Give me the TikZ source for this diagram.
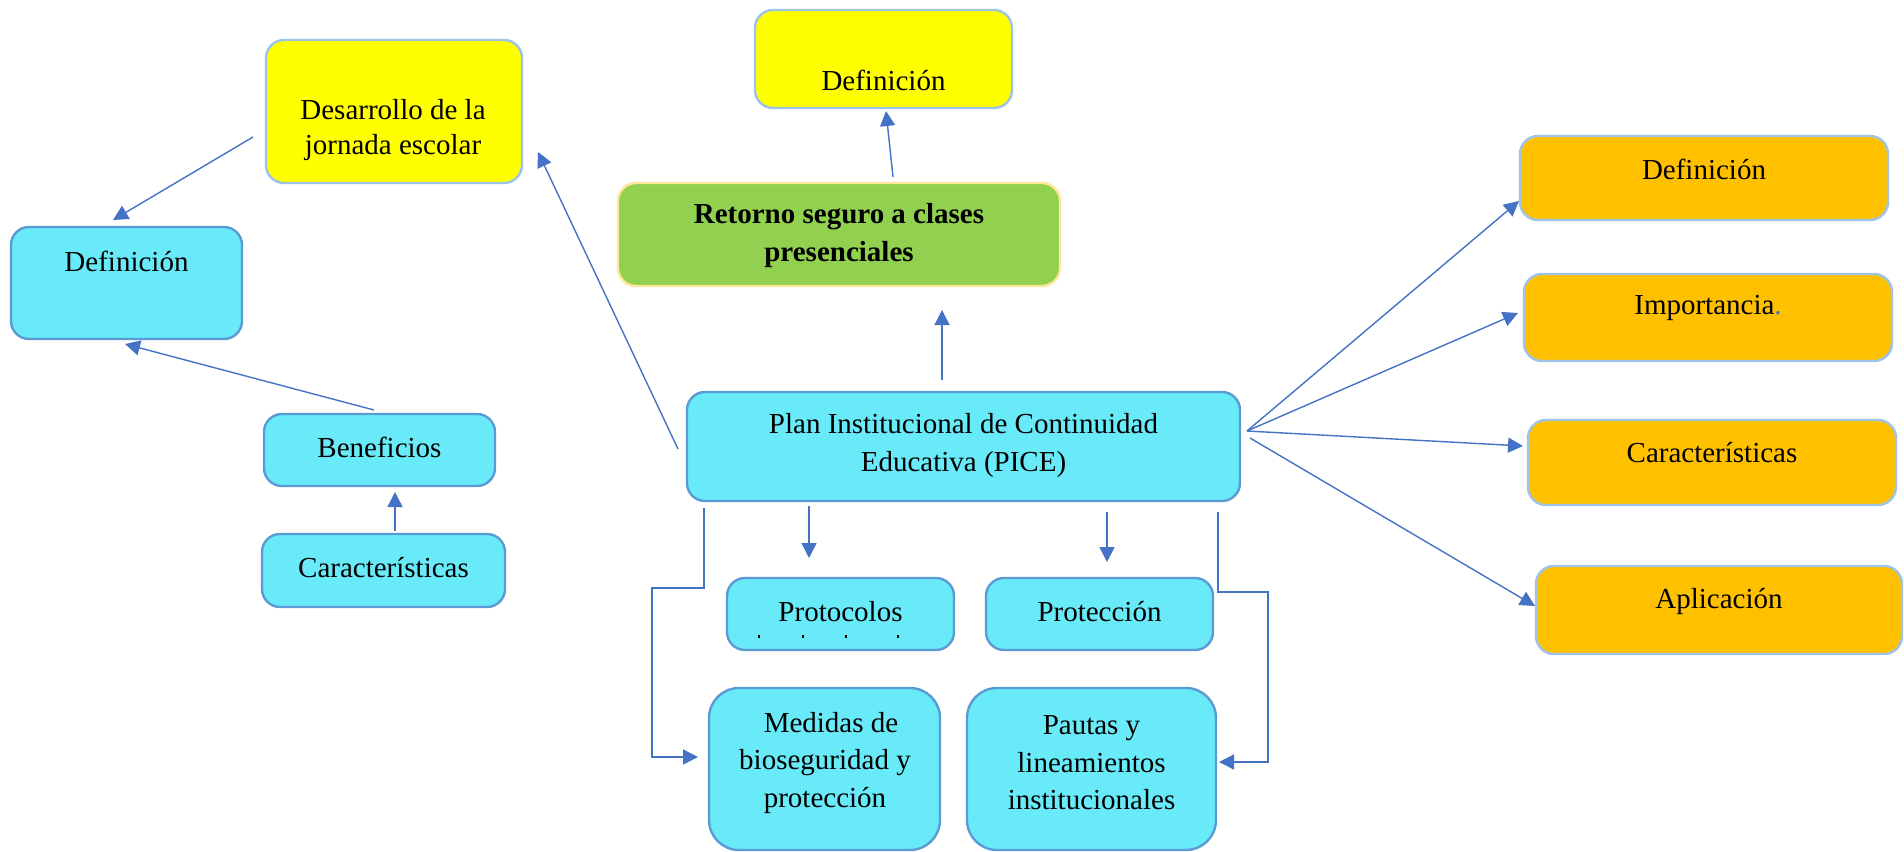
\documentclass[tikz,border=0pt]{standalone}
\usepackage{fontspec}
\setmainfont{Liberation Serif}
\usetikzlibrary{arrows.meta}
\definecolor{cyanf}{HTML}{69EAF8}
\definecolor{cyanb}{HTML}{5B9BD5}
\definecolor{lblue}{HTML}{9DC3E6}
\definecolor{yel}{HTML}{FFFF00}
\definecolor{grn}{HTML}{92D050}
\definecolor{grnb}{HTML}{FFE699}
\definecolor{org}{HTML}{FFC000}
\definecolor{arr}{HTML}{4472C4}
\begin{document}
\begin{tikzpicture}[x=0.5pt,y=-0.5pt,
 box/.style={rectangle, rounded corners=9pt, line width=1.2pt, inner sep=0pt},
 wh/.style 2 args={minimum width=#1*0.5pt, minimum height=#2*0.5pt},
 cbox/.style={box, fill=cyanf, draw=cyanb},
 ybox/.style={box, fill=yel, draw=lblue},
 obox/.style={box, fill=org, draw=lblue},
 gbox/.style={box, fill=grn, draw=grnb},
 txt/.style={font=\fontsize{14.5}{18.7}\selectfont, align=center, inner sep=0pt},
 conn/.style={draw=arr, line width=0.7pt, -{Triangle[length=7.5pt,width=7.5pt]}},
]
\useasboundingbox (0,0) rectangle (1904,851);

% boxes
\node[ybox, wh={257}{98}] (defTop) at (883.5,59) {};
\node[txt] (defTopT) at (883.5,80) {Definición};
\node[gbox, wh={442}{103}] (retorno) at (839,234.5) {};
\node[txt, font=\fontsize{14.5}{19}\selectfont\bfseries] (retornoT) at (839,236) {Retorno seguro a clases\\presenciales};
\node[ybox, wh={256}{143}] (desarrollo) at (394,111.5) {};
\node[txt, font=\fontsize{14.5}{17.5}\selectfont] (desarrolloT) at (393,130.5) {Desarrollo de la\\jornada escolar};
\node[cbox, wh={231}{112}] (defLeft) at (126.5,283) {};
\node[txt] (defLeftT) at (126.5,261) {Definición};
\node[cbox, wh={231}{72}] (benef) at (379.5,450) {};
\node[txt] (benefT) at (379.5,447) {Beneficios};
\node[cbox, wh={243}{73}] (caractL) at (383.5,570.5) {};
\node[txt] (caractLT) at (383.5,568) {Características};
\node[cbox, wh={553}{109}] (pice) at (963.5,446.5) {};
\node[txt, font=\fontsize{14.5}{19}\selectfont] (piceT) at (963.5,446) {Plan Institucional de Continuidad\\Educativa (PICE)};
\node[cbox, wh={227}{72}] (protocolos) at (840.5,614) {};
\node[txt] (protocolosT) at (840.5,612) {Protocolos};
\foreach \px in {758,802,845,897}{\fill (\px,635) rectangle ++(1.6,3);}
\node[cbox, wh={227}{72}] (proteccion) at (1099.5,614) {};
\node[txt] (proteccionT) at (1099.5,612) {Protección};
\node[cbox, rounded corners=15pt, wh={231}{162}] (medidas) at (824.5,769) {};
\node[txt] (medidasT) at (825,763) {\hspace*{6pt}Medidas de\\bioseguridad y\\protección};
\node[cbox, rounded corners=15pt, wh={249}{162}] (pautas) at (1091.5,769) {};
\node[txt] (pautasT) at (1091.5,763) {Pautas y\\lineamientos\\institucionales};
\node[obox, wh={368}{84}] (oDef) at (1704,178) {};
\node[txt] (oDefT) at (1704,169) {Definición};
\node[obox, wh={368}{87}] (oImp) at (1708,317.5) {};
\node[txt] (oImpT) at (1708,308) {Importancia\textcolor{arr}{.}};
\node[obox, wh={368}{85}] (oCar) at (1712,462.5) {};
\node[txt] (oCarT) at (1712,453) {Características};
\node[obox, wh={366}{88}] (oApl) at (1719,610) {};
\node[txt] (oAplT) at (1719,601) {Aplicación};

% connector end points
\coordinate (a1s) at (893,177); \coordinate (a1e) at (886,111);
\coordinate (a2s) at (942,380); \coordinate (a2e) at (942,310);
\coordinate (a3s) at (678,449); \coordinate (a3e) at (538,152);
\coordinate (a4s) at (253,137); \coordinate (a4e) at (113,220);
\coordinate (a5s) at (374,410); \coordinate (a5e) at (125,344);
\coordinate (a6s) at (395,531); \coordinate (a6e) at (395,492);
\coordinate (a7s) at (809,506); \coordinate (a7e) at (809,558);
\coordinate (a8s) at (1107,512); \coordinate (a8e) at (1107,562);
\coordinate (a9s) at (704,508); \coordinate (a9e) at (698,757);
\coordinate (a10s) at (1218,512); \coordinate (a10e) at (1219,762);
\coordinate (hub) at (1247,431); \coordinate (hub2) at (1250,438);
\coordinate (a11e) at (1519,201);
\coordinate (a12e) at (1518,313);
\coordinate (a13e) at (1523,446);
\coordinate (a14e) at (1535,606);

\draw[conn] (a1s) -- (a1e);
\draw[conn] (a2s) -- (a2e);
\draw[conn] (a3s) -- (a3e);
\draw[conn] (a4s) -- (a4e);
\draw[conn] (a5s) -- (a5e);
\draw[conn] (a6s) -- (a6e);
\draw[conn] (a7s) -- (a7e);
\draw[conn] (a8s) -- (a8e);
\draw[conn] (a9s) -- (704,588) -- (652,588) -- (652,757) -- (a9e);
\draw[conn] (a10s) -- (1218,592) -- (1268,592) -- (1268,762) -- (a10e);
\draw[conn] (hub) -- (a11e);
\draw[conn] (hub) -- (a12e);
\draw[conn] (hub) -- (a13e);
\draw[conn] (hub2) -- (a14e);
\end{tikzpicture}
\end{document}
